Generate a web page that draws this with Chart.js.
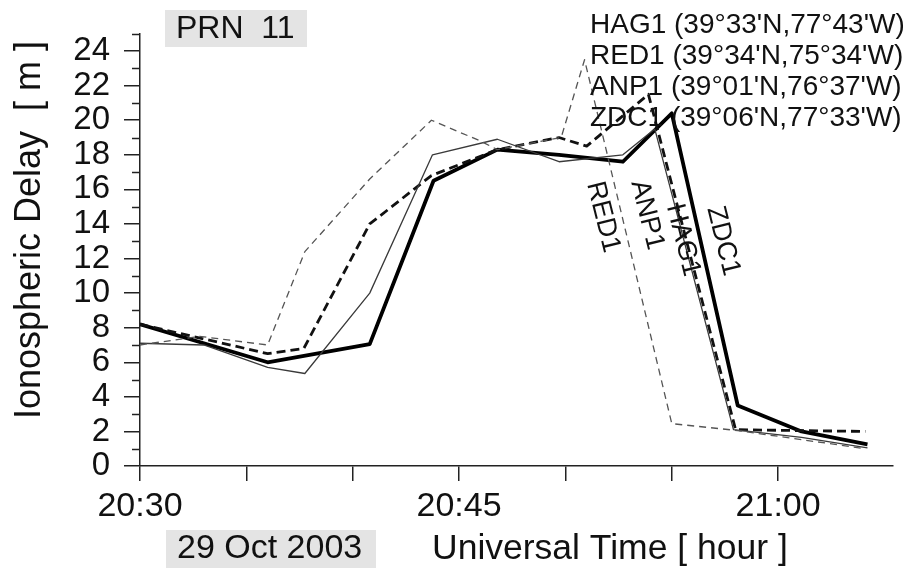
<!DOCTYPE html>
<html>
<head>
<meta charset="utf-8">
<script src="https://cdn.jsdelivr.net/npm/chart.js@4.4.0/dist/chart.umd.min.js"></script>
<style>
html, body { margin: 0; padding: 0; background: #fff; }
#chart { display: block; }
</style>
</head>
<body>
<canvas id="chart" width="903" height="572"></canvas>
<script>
// Time is minutes after 20:30 UT, delay in metres
const hag1Time  = [0, 3, 6, 7.75, 10.8, 13.75, 16.8, 19.7, 22.7, 24.2, 27.9, 31.1, 34.2];
const hag1Delay = [7.1, 7.0, 5.7, 5.35, 10.0, 18.0, 18.9, 17.6, 18.0, 19.5, 2.1, 1.65, 1.05];

const red1Time  = [0, 2.8, 6.0, 7.75, 10.8, 13.7, 16.0, 16.8, 19.8, 20.9, 25.0, 28.1, 34.1];
const red1Delay = [7.0, 7.5, 7.0, 12.4, 16.6, 20.0, 18.8, 18.3, 19.0, 23.5, 2.45, 2.05, 1.0];

const anp1Time  = [0, 6.0, 7.7, 10.8, 13.7, 16.8, 19.7, 21.0, 23.9, 28.0, 34.1];
const anp1Delay = [8.2, 6.5, 6.8, 14.0, 16.8, 18.3, 19.0, 18.5, 21.5, 2.1, 2.0];

const zdc1Time  = [0, 6.0, 10.8, 13.8, 16.8, 19.7, 22.7, 25.0, 28.1, 31.1, 34.2];
const zdc1Delay = [8.2, 6.0, 7.05, 16.5, 18.3, 18.0, 17.6, 20.4, 3.5, 2.0, 1.25];

// x tick labels (minutes after 20:30)
const timeLabels = { 0: '20:30', 15: '20:45', 30: '21:00' };

const stationNames = ["HAG1 (39°33'N,77°43'W)", "RED1 (39°34'N,75°34'W)",
                      "ANP1 (39°01'N,76°37'W)", "ZDC1 (39°06'N,77°33'W)"];

const FONT = '"Liberation Sans", Arial, sans-serif';

function toPoints(t, v) {
    return t.map((x, i) => ({ x: x, y: v[i] }));
}

// extra drawing: minor ticks, titles, boxes, station labels
const decorations = {
    id: 'decorations',
    afterDraw(chart) {
        const ctx = chart.ctx;
        const xs = chart.scales.x, ys = chart.scales.y;
        ctx.save();

        // minor y ticks (odd values)
        ctx.strokeStyle = '#222';
        ctx.lineWidth = 1.5;
        for (let v = 1; v <= 25; v += 2) {
            const py = Math.round(ys.getPixelForValue(v)) + 0.5;
            ctx.beginPath();
            ctx.moveTo(xs.left - 8, py);
            ctx.lineTo(xs.left, py);
            ctx.stroke();
        }

        // y title
        ctx.fillStyle = '#111';
        ctx.font = '36px ' + FONT;
        ctx.textAlign = 'center';
        ctx.textBaseline = 'middle';
        ctx.save();
        ctx.translate(30, 230);
        ctx.rotate(-Math.PI / 2);
        ctx.fillText('Ionospheric Delay  [ m ]', 0, 0);
        ctx.restore();

        // PRN box
        ctx.fillStyle = '#e4e4e4';
        ctx.fillRect(165, 10, 142, 37);
        ctx.fillStyle = '#111';
        ctx.font = '32px ' + FONT;
        ctx.textAlign = 'left';
        ctx.fillText('PRN  11', 176, 29);

        // date box and x title
        ctx.fillStyle = '#e4e4e4';
        ctx.fillRect(166, 530, 210, 38);
        ctx.fillStyle = '#111';
        ctx.font = '34px ' + FONT;
        ctx.fillText('29 Oct 2003', 177, 549);
        ctx.font = '35.5px ' + FONT;
        ctx.fillText('Universal Time [ hour ]', 432, 549);

        // station list, top right
        ctx.font = '28px ' + FONT;
        const rows = [25, 56, 87, 118];
        stationNames.forEach((s, i) => ctx.fillText(s, 590, rows[i]));

        // rotated labels along the drop
        const tags = [['RED1', 603, 217], ['ANP1', 647, 215], ['HAG1', 683, 240], ['ZDC1', 723, 241]];
        ctx.font = '27px ' + FONT;
        ctx.textAlign = 'center';
        tags.forEach(([txt, cx, cy]) => {
            ctx.save();
            ctx.translate(cx, cy);
            ctx.rotate(76 * Math.PI / 180);
            ctx.fillText(txt, 0, 0);
            ctx.restore();
        });

        ctx.restore();
    }
};

new Chart(document.getElementById('chart'), {
    type: 'line',
    data: {
        datasets: [
            { label: 'RED1', data: toPoints(red1Time, red1Delay), borderColor: '#555', borderWidth: 1.3, borderDash: [7, 5] },
            { label: 'HAG1', data: toPoints(hag1Time, hag1Delay), borderColor: '#3a3a3a', borderWidth: 1.3 },
            { label: 'ANP1', data: toPoints(anp1Time, anp1Delay), borderColor: '#111', borderWidth: 2.8, borderDash: [9, 5] },
            { label: 'ZDC1', data: toPoints(zdc1Time, zdc1Delay), borderColor: '#000', borderWidth: 3.8 }
        ]
    },
    options: {
        responsive: false,
        animation: false,
        devicePixelRatio: 1,
        elements: {
            point: { radius: 0 },
            line: { tension: 0, borderJoinStyle: 'round', fill: false }
        },
        layout: { padding: { left: 0, top: 10, right: 10, bottom: 0 } },
        plugins: {
            legend: { display: false },
            tooltip: { enabled: false }
        },
        scales: {
            x: {
                type: 'linear',
                min: 0,
                max: 35.4,
                afterFit: (s) => { s.height = 106; },
                afterBuildTicks: (s) => { s.ticks = s.ticks.filter(t => t.value % 5 === 0); },
                grid: { drawOnChartArea: false, tickLength: 15, color: '#222', lineWidth: 1.5 },
                border: { color: '#222', width: 1.5 },
                ticks: {
                    stepSize: 5,
                    autoSkip: false,
                    maxRotation: 0,
                    padding: 5,
                    color: '#111',
                    font: { family: FONT, size: 34 },
                    callback: (v) => timeLabels[v] || ''
                }
            },
            y: {
                min: 0,
                max: 25,
                afterFit: (s) => { s.width = 140; },
                grid: {
                    drawOnChartArea: false,
                    tickLength: 16,
                    lineWidth: 1.5,
                    color: (c) => (c.tick && c.tick.value % 2 === 0) ? '#222' : 'rgba(0,0,0,0)'
                },
                border: { color: '#222', width: 1.5 },
                ticks: {
                    stepSize: 1,
                    autoSkip: false,
                    padding: 14,
                    color: '#111',
                    font: { family: FONT, size: 33 },
                    callback: (v) => (v % 2 === 0 && v <= 24) ? String(v) : ''
                }
            }
        }
    },
    plugins: [decorations]
});
</script>
</body>
</html>
